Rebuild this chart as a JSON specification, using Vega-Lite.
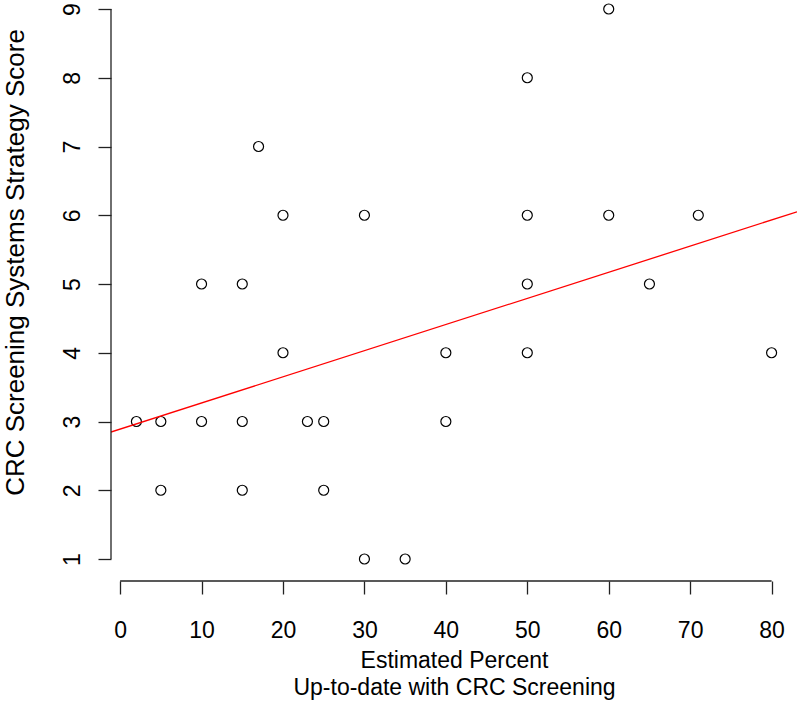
{
  "$schema": "https://vega.github.io/schema/vega-lite/v6.json",
  "width": 686,
  "height": 581,
  "autosize": "none",
  "padding": {"left": 111, "top": 0, "right": 3, "bottom": 123},
  "background": "white",
  "config": {
    "view": {"stroke": null},
    "font": "Liberation Sans"
  },
  "datasets": {
    "points": [
      {"pct": 2, "score": 3}, {"pct": 5, "score": 3}, {"pct": 5, "score": 2},
      {"pct": 10, "score": 5}, {"pct": 10, "score": 3}, {"pct": 15, "score": 5},
      {"pct": 15, "score": 3}, {"pct": 15, "score": 2}, {"pct": 17, "score": 7},
      {"pct": 20, "score": 6}, {"pct": 20, "score": 4}, {"pct": 23, "score": 3},
      {"pct": 25, "score": 3}, {"pct": 25, "score": 2}, {"pct": 30, "score": 6},
      {"pct": 30, "score": 1}, {"pct": 35, "score": 1}, {"pct": 40, "score": 4},
      {"pct": 40, "score": 3}, {"pct": 50, "score": 8}, {"pct": 50, "score": 6},
      {"pct": 50, "score": 5}, {"pct": 50, "score": 4}, {"pct": 60, "score": 9},
      {"pct": 60, "score": 6}, {"pct": 65, "score": 5}, {"pct": 71, "score": 6},
      {"pct": 80, "score": 4}
    ],
    "fit": [
      {"pct": -1.12, "score": 2.847},
      {"pct": 83.12, "score": 6.05}
    ]
  },
  "layer": [
    {
      "data": {"name": "points"},
      "mark": {"type": "point", "shape": "circle", "filled": false, "stroke": "black", "strokeWidth": 1.2, "size": 100, "opacity": 1},
      "encoding": {
        "x": {
          "field": "pct", "type": "quantitative",
          "scale": {"domain": [-1.12, 83.12], "nice": false, "zero": false},
          "axis": {
            "domain": false, "grid": false,
            "values": [0, 10, 20, 30, 40, 50, 60, 70, 80],
            "format": "d",
            "tickSize": 13, "tickColor": "#222", "tickWidth": 1.3,
            "labelFontSize": 23, "labelColor": "black", "labelFont": "Liberation Sans",
            "labelBaseline": "alphabetic", "labelPadding": 43, "labelFlush": false,
            "title": ["Estimated Percent", "Up-to-date with CRC Screening"],
            "titleFontSize": 23, "titleFontWeight": "normal", "titleColor": "black",
            "titleFont": "Liberation Sans", "titleLineHeight": 27,
            "titleBaseline": "alphabetic", "titleAlign": "center",
            "titleX": 343, "titleY": 86
          }
        },
        "y": {
          "field": "score", "type": "quantitative",
          "scale": {"domain": [0.68, 9.131], "nice": false, "zero": false},
          "axis": {
            "domain": false, "grid": false,
            "values": [1, 2, 3, 4, 5, 6, 7, 8, 9],
            "format": "d",
            "tickSize": 13, "tickColor": "#222", "tickWidth": 1.3,
            "labelFontSize": 23, "labelColor": "black", "labelFont": "Liberation Sans",
            "labelAngle": 270, "labelAlign": "center", "labelBaseline": "alphabetic",
            "labelPadding": 19, "labelFlush": false,
            "title": "CRC Screening Systems Strategy Score",
            "titleFontSize": 26, "titleFontWeight": "normal", "titleColor": "black",
            "titleFont": "Liberation Sans", "titleAngle": 270,
            "titleBaseline": "alphabetic", "titleAlign": "center",
            "titleX": -88, "titleY": 262
          }
        }
      }
    },
    {
      "data": {"name": "fit"},
      "mark": {"type": "line", "color": "red", "strokeWidth": 1.3, "clip": true},
      "encoding": {
        "x": {"field": "pct", "type": "quantitative"},
        "y": {"field": "score", "type": "quantitative"}
      }
    },
    {
      "data": {"values": [{}]},
      "mark": {"type": "rule", "color": "#222", "strokeWidth": 1.3},
      "encoding": {
        "x": {"datum": 0},
        "x2": {"datum": 80},
        "y": {"datum": 0.68}
      }
    },
    {
      "data": {"values": [{}]},
      "mark": {"type": "rule", "color": "#222", "strokeWidth": 1.3},
      "encoding": {
        "x": {"datum": -1.12},
        "y": {"datum": 1},
        "y2": {"datum": 9}
      }
    }
  ]
}
